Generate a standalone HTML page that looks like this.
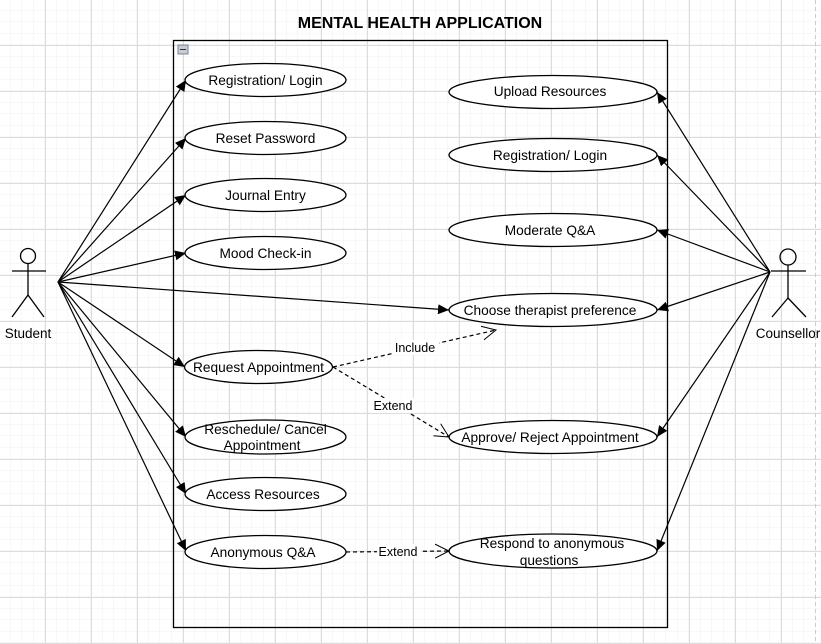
<!DOCTYPE html>
<html><head><meta charset="utf-8"><style>
html,body{margin:0;padding:0;background:#fff;}
svg{display:block;font-family:"Liberation Sans",Arial,sans-serif;}
</style></head><body>
<svg width="821" height="644" viewBox="0 0 821 644" xmlns="http://www.w3.org/2000/svg">
<defs>
<pattern id="minor" width="11.5" height="11.5" patternUnits="userSpaceOnUse">
<path d="M11.5 0V11.5H0" fill="none" stroke="#f1f1f1" stroke-width="1"/>
</pattern>
<pattern id="major" width="46" height="46" patternUnits="userSpaceOnUse" x="-1" y="-1">
<rect width="46" height="46" fill="url(#minor)"/>
<path d="M0.5 0V46M0 0.5H46" fill="none" stroke="#dcdcdc" stroke-width="1"/>
</pattern>
<marker id="fa" markerWidth="12" markerHeight="10" refX="11" refY="5" orient="auto" markerUnits="userSpaceOnUse">
<path d="M0 0L11 5L0 10z" fill="#000"/>
</marker>
<marker id="oa" markerWidth="16" markerHeight="16" refX="14" refY="8" orient="auto" markerUnits="userSpaceOnUse">
<path d="M0 1L14 8L0 15" fill="none" stroke="#000" stroke-width="1"/>
</marker>
</defs>
<rect width="821" height="644" fill="url(#major)"/>
<line x1="815.5" y1="0" x2="815.5" y2="644" stroke="#ccc" stroke-dasharray="4,3"/>
<text x="420" y="28" font-size="16" font-weight="bold" text-anchor="middle">MENTAL HEALTH APPLICATION</text>
<rect x="173.5" y="40.5" width="494" height="587" fill="none" stroke="#000" stroke-width="1.3"/>
<rect x="178" y="45" width="10" height="9" fill="#c8ccd6" stroke="#7a8090"/>
<line x1="180" y1="49.5" x2="186" y2="49.5" stroke="#333"/>

<g fill="none" stroke="#000" stroke-width="1.3">
<circle cx="28" cy="256" r="7.5"/>
<line x1="12" y1="271" x2="46" y2="271"/>
<line x1="28" y1="263.5" x2="28" y2="295"/>
<line x1="28" y1="295" x2="12" y2="317"/>
<line x1="28" y1="295" x2="44" y2="317"/>
<circle cx="788" cy="257" r="8"/>
<line x1="771" y1="271" x2="806" y2="271"/>
<line x1="788" y1="265" x2="788" y2="298"/>
<line x1="788" y1="298" x2="772" y2="317"/>
<line x1="788" y1="298" x2="806" y2="317"/>
</g>
<text x="28" y="338" font-size="13.5" text-anchor="middle">Student</text>
<text x="788" y="338" font-size="13.5" text-anchor="middle">Counsellor</text>

<g stroke="#000" stroke-width="1.2" marker-end="url(#fa)">
<line x1="58" y1="282" x2="186" y2="80"/>
<line x1="58" y1="282" x2="186" y2="138"/>
<line x1="58" y1="282" x2="186" y2="195"/>
<line x1="58" y1="282" x2="186" y2="253"/>
<line x1="58" y1="282" x2="449" y2="310"/>
<line x1="58" y1="282" x2="185" y2="367"/>
<line x1="58" y1="282" x2="186" y2="437"/>
<line x1="58" y1="282" x2="186" y2="494"/>
<line x1="58" y1="282" x2="186" y2="551"/>
<line x1="770" y1="272" x2="657" y2="92"/>
<line x1="770" y1="272" x2="657" y2="155"/>
<line x1="770" y1="272" x2="657" y2="230"/>
<line x1="770" y1="272" x2="657" y2="310"/>
<line x1="770" y1="272" x2="657" y2="437"/>
<line x1="770" y1="272" x2="657" y2="551"/>
</g>

<g fill="#fff" stroke="#000" stroke-width="1.3">
<ellipse cx="265.5" cy="80" rx="80.5" ry="16.5"/>
<ellipse cx="265.5" cy="138" rx="80.5" ry="16.5"/>
<ellipse cx="265.5" cy="195" rx="80.5" ry="16.5"/>
<ellipse cx="265.5" cy="253" rx="80.5" ry="16.5"/>
<ellipse cx="258.5" cy="367" rx="74" ry="16.5"/>
<ellipse cx="265.5" cy="437" rx="80.5" ry="17"/>
<ellipse cx="265.5" cy="494" rx="80.5" ry="16.5"/>
<ellipse cx="265.5" cy="552" rx="80.5" ry="16.5"/>
<ellipse cx="553" cy="92" rx="104" ry="16.5"/>
<ellipse cx="553" cy="155" rx="104" ry="16.5"/>
<ellipse cx="553" cy="230" rx="104" ry="16.5"/>
<ellipse cx="553" cy="310" rx="104" ry="16.5"/>
<ellipse cx="553" cy="437" rx="104" ry="16.5"/>
<ellipse cx="553" cy="551" rx="104" ry="17"/>
</g>

<g stroke="#000" stroke-width="1.2" stroke-dasharray="4,3" fill="none" marker-end="url(#oa)">
<line x1="333" y1="367" x2="496" y2="330"/>
<line x1="333" y1="367" x2="449" y2="437"/>
<line x1="346" y1="552" x2="449" y2="551"/>
</g>
<rect x="392" y="340" width="47" height="15" fill="#fff"/>
<text x="415" y="352" font-size="12.5" text-anchor="middle">Include</text>
<rect x="371" y="398" width="45" height="15" fill="#fff"/>
<text x="393" y="410" font-size="12.5" text-anchor="middle">Extend</text>
<rect x="377" y="544" width="44" height="15" fill="#fff"/>
<text x="398" y="556" font-size="12.5" text-anchor="middle">Extend</text>

<g font-size="13.7" text-anchor="middle">
<text x="265.5" y="85">Registration/ Login</text>
<text x="265.5" y="143">Reset Password</text>
<text x="265.5" y="200">Journal Entry</text>
<text x="265.5" y="258">Mood Check-in</text>
<text x="258.5" y="372">Request Appointment</text>
<text x="265.5" y="434">Reschedule/ Cancel</text>
<text x="262" y="450">Appointment</text>
<text x="263" y="499">Access Resources</text>
<text x="263" y="557">Anonymous Q&amp;A</text>
<text x="550" y="96">Upload Resources</text>
<text x="550" y="160">Registration/ Login</text>
<text x="550" y="235">Moderate Q&amp;A</text>
<text x="550" y="315">Choose therapist preference</text>
<text x="550" y="442">Approve/ Reject Appointment</text>
<text x="552" y="548">Respond to anonymous</text>
<text x="549" y="565">questions</text>
</g>
</svg>
</body></html>
